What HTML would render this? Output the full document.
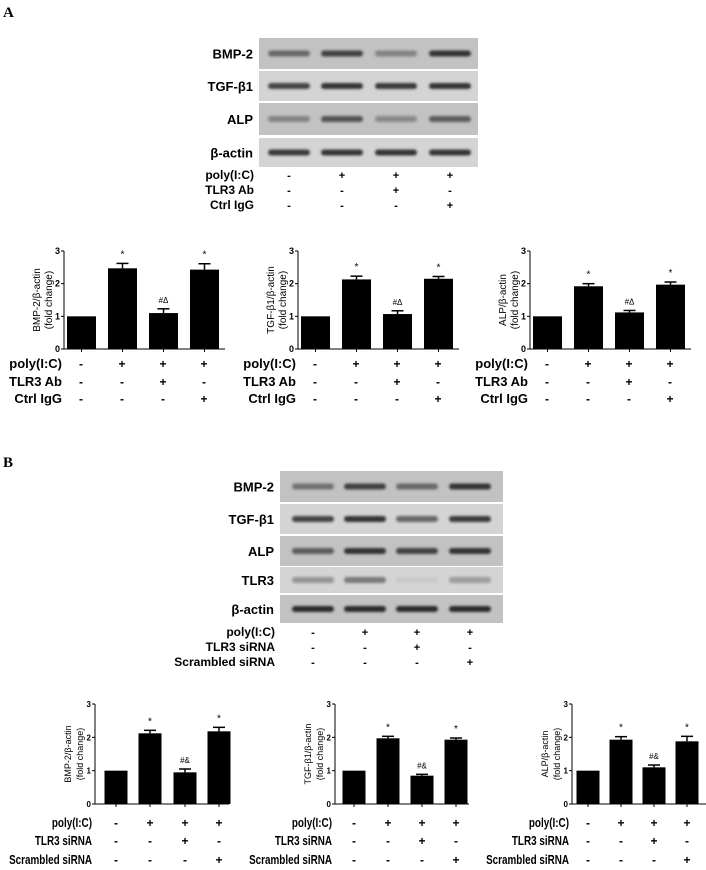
<!DOCTYPE html>
<html><head><meta charset="utf-8"><style>
body{margin:0;background:#fff;width:706px;height:870px;overflow:hidden;}
svg{display:block;font-family:"Liberation Sans",sans-serif;}
</style></head><body>
<svg id="fig" width="706" height="870" viewBox="0 0 706 870">
<defs>
<filter id="blur" x="-10%" y="-50%" width="120%" height="200%"><feGaussianBlur stdDeviation="1.3"/></filter>
</defs>
<text x="3" y="17" font-family="Liberation Serif" font-weight="bold" font-size="15">A</text>
<text x="3" y="467" font-family="Liberation Serif" font-weight="bold" font-size="15">B</text>
<g id="root"></g>
</svg>
<script>
// ---- data ----
const groups = ["control","poly(I:C)","poly(I:C)+inhibitor","poly(I:C)+control"];
const aBmp = [1, 2.47, 1.10, 2.43];
const aBmpErr = [0, 0.15, 0.13, 0.18];
const aTgf = [1, 2.13, 1.07, 2.15];
const aTgfErr = [0, 0.10, 0.10, 0.07];
const aAlp = [1, 1.92, 1.12, 1.97];
const aAlpErr = [0, 0.08, 0.06, 0.08];
const bBmp = [1, 2.12, 0.95, 2.18];
const bBmpErr = [0, 0.09, 0.10, 0.12];
const bTgf = [1, 1.97, 0.85, 1.93];
const bTgfErr = [0, 0.06, 0.04, 0.05];
const bAlp = [1, 1.93, 1.10, 1.88];
const bAlpErr = [0, 0.09, 0.07, 0.15];
const yTicks = [0, 1, 2, 3];
const aMarks = ["", "*", "#\u0394", "*"];
const bMarks = ["", "*", "#&", "*"];
const aRows = ["poly(I:C)", "TLR3 Ab", "Ctrl IgG"];
const aSigns = [["-","+","+","+"],["-","-","+","-"],["-","-","-","+"]];
const bRows = ["poly(I:C)", "TLR3 siRNA", "Scrambled siRNA"];
const bSigns = [["-","+","+","+"],["-","-","+","-"],["-","-","-","+"]];
const aBlotLabels = ["BMP-2","TGF-\u03b21","ALP","\u03b2-actin"];
const aBlotIntensity = [[0.55,0.8,0.4,0.9],[0.8,0.9,0.85,0.9],[0.4,0.7,0.35,0.65],[0.85,0.9,0.9,0.9]];
const bBlotLabels = ["BMP-2","TGF-\u03b21","ALP","TLR3","\u03b2-actin"];
const bBlotIntensity = [[0.5,0.8,0.55,0.9],[0.8,0.9,0.6,0.85],[0.65,0.9,0.8,0.9],[0.35,0.5,0.05,0.3],[0.95,0.95,0.95,0.95]];

const NS="http://www.w3.org/2000/svg";
const root=document.getElementById('root');
function el(tag,attrs,parent,text){const e=document.createElementNS(NS,tag);for(const k in attrs)e.setAttribute(k,attrs[k]);if(text!==undefined)e.textContent=text;(parent||root).appendChild(e);return e;}

function blots(x0,x1,boxes,labels,inten,cols,name){
  const g=el('g',{});
  
  
  boxes.forEach((b,i)=>{
    const r=el('rect',{x:x0,y:b[0],width:x1-x0,height:b[1]-b[0],fill:i%2?'#d4d4d4':'#c2c2c2'},g);
    
    
    const cy=(b[0]+b[1])/2;
    inten[i].forEach((v,j)=>{
      const band=el('rect',{x:cols[j]-21,y:cy-3,width:42,height:6,rx:3,fill:'#222','fill-opacity':v,filter:'url(#blur)'},g);
      
      
    });
    const t=el('text',{x:x0-6,y:cy+5,'text-anchor':'end','font-weight':'bold','font-size':13},g,labels[i]);
    
    
  });
}

function conds(rowsY,labelX,cols,rows,signs,fs,name,bold,narrow){
  rows.forEach((r,i)=>{
    const t=el('text',{x:labelX,y:rowsY[i],'text-anchor':'end','font-size':fs,'font-weight':bold?'bold':'normal'},root,r);
    
    
    if(narrow){
      const w=t.getComputedTextLength();
      t.setAttribute('textLength',(w*narrow).toFixed(1));
      t.setAttribute('lengthAdjust','spacingAndGlyphs');
    }
    signs[i].forEach((s,j)=>{
      const u=el('text',{x:cols[j],y:rowsY[i],'text-anchor':'middle','font-size':fs-1,'font-weight':'bold'},root,s);
      
      
    });
  });
}

function chart(opt){
  const {ax,axEnd,y0,y3,barX,barW,vals,errs,marks,title,name,fs}=opt;
  const g=el('g',{});
  
  
  const ys=v=>y0-(y0-y3)*v/3;
  el('line',{x1:ax,y1:y3,x2:ax,y2:y0,stroke:'#000','stroke-width':1},g);
  el('line',{x1:ax,y1:y0,x2:axEnd,y2:y0,stroke:'#000','stroke-width':1},g);
  yTicks.forEach(t=>{
    el('line',{x1:ax-3,y1:ys(t),x2:ax,y2:ys(t),stroke:'#000'},g);
    const tx=el('text',{x:ax-4,y:ys(t)+3,'text-anchor':'end','font-size':fs,'font-weight':'bold'},g,String(t));
    
    
  });
  vals.forEach((v,i)=>{
    const bx=barX[i];
    el('line',{x1:bx+barW/2,y1:y0,x2:bx+barW/2,y2:y0+3,stroke:'#000'},g);
    const b=el('rect',{x:bx,y:ys(v),width:barW,height:y0-ys(v),fill:'#000'},g);
    
    
    if(errs[i]>0){
      const cx=bx+barW/2, top=ys(v+errs[i]);
      el('line',{x1:cx,y1:ys(v),x2:cx,y2:top,stroke:'#000','stroke-width':1.5},g);
      el('line',{x1:cx-6,y1:top,x2:cx+6,y2:top,stroke:'#000','stroke-width':1.5},g);
      const m=el('text',{x:cx,y:top-6,'text-anchor':'middle','font-size':marks[i]==='*'?10:8},g,marks[i]);
      
      
    }
  });
  const cy=(y0+y3)/2, tx=ax-18;
  const t=el('text',{transform:`translate(${tx},${cy}) rotate(-90)`,'text-anchor':'middle','font-size':fs+1},g);
  
  
  el('tspan',{x:0,dy:-6},t,title);
  el('tspan',{x:0,dy:12},t,'(fold change)');
}

// ---- Panel A ----
blots(259,478,[[38,69],[71,101],[103,135],[138,167]],aBlotLabels,aBlotIntensity,[289,342,396,450],'panel-a-western-blot');
conds([179,194,209],254,[289,342,396,450],aRows,aSigns,12,'panel-a-blot',true);
const aCols=[[81,122,163,204],[315,356,397,438],[547,588,629,670]];
const aAx=[64,298,530];
[[aBmp,aBmpErr,'BMP-2/\u03b2-actin','chart-a-bmp2'],[aTgf,aTgfErr,'TGF-\u03b21/\u03b2-actin','chart-a-tgfb1'],[aAlp,aAlpErr,'ALP/\u03b2-actin','chart-a-alp']].forEach((c,k)=>{
  chart({ax:aAx[k],axEnd:aAx[k]+161,y0:349,y3:251,barX:aCols[k].map(x=>x-14),barW:29,vals:c[0],errs:c[1],marks:aMarks,title:c[2],name:c[3],fs:9});
  conds([368,386,403],aAx[k]-2,aCols[k],aRows,aSigns,13,c[3],true);
});

// ---- Panel B ----
blots(280,503,[[471,502],[504,534],[536,566],[567,593],[595,623]],bBlotLabels,bBlotIntensity,[313,365,417,470],'panel-b-western-blot');
conds([636,651,666],275,[313,365,417,470],bRows,bSigns,12,'panel-b-blot',true);
const bAx=[95,335,572];
const bCols=[[116,150,185,219],[354,388,422,456],[588,621,654,687]];
[[bBmp,bBmpErr,'BMP-2/\u03b2-actin','chart-b-bmp2'],[bTgf,bTgfErr,'TGF-\u03b21/\u03b2-actin','chart-b-tgfb1'],[bAlp,bAlpErr,'ALP/\u03b2-actin','chart-b-alp']].forEach((c,k)=>{
  chart({ax:bAx[k],axEnd:bAx[k]+134,y0:804,y3:704,barX:bCols[k].map(x=>x-11.5),barW:23,vals:c[0],errs:c[1],marks:bMarks,title:c[2],name:c[3],fs:8});
  conds([827,845,864],bAx[k]-3,bCols[k],bRows,bSigns,13,c[3],true,0.76);
});
</script>
</body></html>
